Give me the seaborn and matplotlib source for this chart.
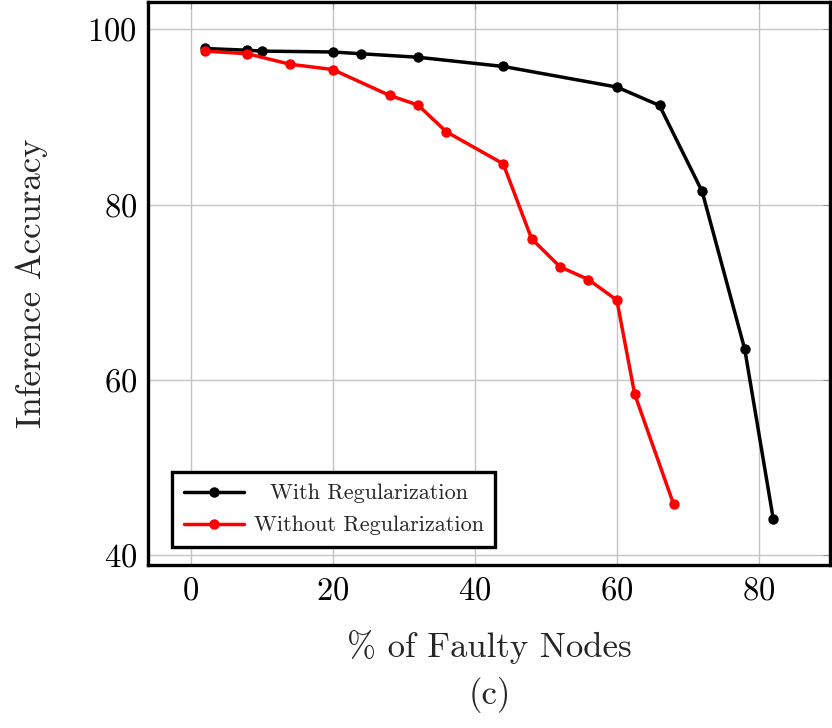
import matplotlib
matplotlib.use("Agg")
import matplotlib.pyplot as plt
import seaborn as sns
import pandas as pd

# data
with_x = [2, 8, 10, 20, 24, 32, 44, 60, 66, 72, 78, 82]
with_y = [97.8, 97.6, 97.5, 97.4, 97.2, 96.8, 95.75, 93.4, 91.3, 81.5, 63.5, 44.2]
without_x = [2, 8, 14, 20, 28, 32, 36, 44, 48, 52, 56, 60, 62.5, 68]
without_y = [97.5, 97.2, 96.0, 95.4, 92.45, 91.35, 88.3, 84.65, 76.1, 72.9, 71.45, 69.1, 58.4, 45.8]
labels = ["With Regularization", "Without Regularization"]
colors = ["black", "red"]
x_ticks = [0, 20, 40, 60, 80]
y_ticks = [40, 60, 80, 100]

sns.set_style("whitegrid")
plt.rcParams['font.family'] = ['cmr10', 'DejaVu Serif']
plt.rcParams['axes.formatter.use_mathtext'] = True

fig = plt.figure(figsize=(8.32, 7.28), dpi=100)
ax = fig.add_axes([148/832, 1-565/728, (830-148)/832, (565-2)/728])

df = pd.concat([
    pd.DataFrame({"x": with_x, "y": with_y, "s": labels[0]}),
    pd.DataFrame({"x": without_x, "y": without_y, "s": labels[1]}),
])
sns.lineplot(data=df, x="x", y="y", hue="s", palette=colors, marker="o",
             markersize=7.5, markeredgewidth=0, linewidth=2.5, sort=False,
             estimator=None, ax=ax)

ax.set_xlim(-6, 90)
ax.set_ylim(38.9, 103.1)
ax.set_xticks(x_ticks)
ax.set_yticks(y_ticks)
ax.grid(True, color="#c4c4c4", linewidth=1.0)
ax.tick_params(axis="both", direction="in", length=5, color="#999999",
               labelsize=23.5, top=True, right=True, labelcolor="black", pad=8)
for sp in ax.spines.values():
    sp.set_visible(True)
    sp.set_color("black")
    sp.set_linewidth(2.4)

ax.set_xlabel("% of Faulty Nodes", fontsize=25, labelpad=18)
ax.set_ylabel("Inference Accuracy", fontsize=25, labelpad=28)
fig.text(0.589, 1-695/728, "(c)", fontsize=25, ha="center", va="center")

leg = ax.legend(loc="lower left", bbox_to_anchor=(24/682, 18/563),
                borderaxespad=0, fontsize=16, frameon=True, fancybox=False,
                handlelength=2.7, borderpad=0.52, labelspacing=0.56,
                handletextpad=0.45)
leg.get_frame().set_edgecolor("black")
leg.get_frame().set_linewidth(2.4)
leg.get_frame().set_alpha(1)

# centre the shorter legend entry under the longer one, as in the original
fig.canvas.draw()
texts = leg.get_texts()
w0 = texts[0].get_window_extent().width
w1 = texts[1].get_window_extent().width
texts[0].set_position(((w1 - w0) / 2, 0))

fig.savefig("out.png", dpi=100)
